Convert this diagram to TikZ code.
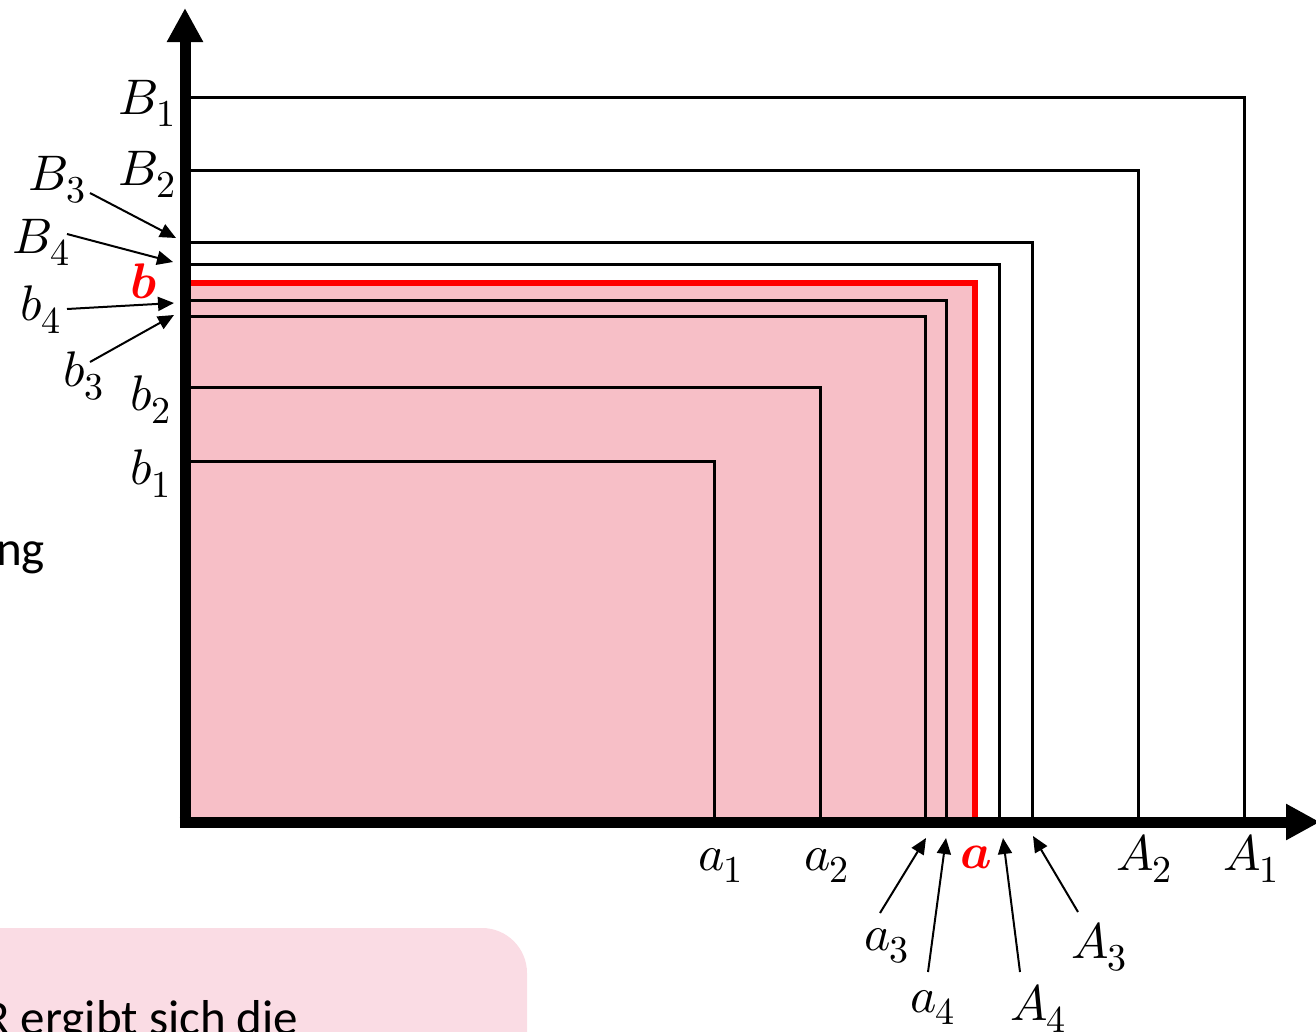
\documentclass[tikz,border=0pt]{standalone}
\usepackage{fontspec}
\usepackage{unicode-math}
\setmainfont{Carlito}
\usetikzlibrary{arrows.meta}
\definecolor{pinkfill}{HTML}{F7BFC7}
\definecolor{boxpink}{HTML}{FADCE4}
\definecolor{redline}{HTML}{FF0000}
\newcommand{\lblsub}[3][12pt]{$#2$\kern-1pt\raisebox{-#1}{\fontsize{38}{42}\selectfont$#3$}}
\tikzset{
  lab/.style={font=\fontsize{50}{60}\selectfont, inner sep=0pt, anchor=base west},
  redlab/.style={lab, text=redline},
  rectline/.style={line width=3pt},
  redrect/.style={line width=6pt, draw=redline},
  pointer/.style={line width=2pt, -{Triangle[length=16pt,width=14pt]}},
  axis/.style={line width=11pt, -{Triangle[length=34pt,width=34pt]}},
  bodytext/.style={font=\fontsize{49}{56}\selectfont, inner sep=0pt, anchor=base west}
}
\begin{document}
\begin{tikzpicture}[x=1pt,y=-1pt]
\useasboundingbox (0,0) rectangle (1316,1031);
\clip (0,0) rectangle (1316,1031);
% pink area
\fill[pinkfill] (185,283) rectangle (975,822);
% rectangles
\draw[rectline] (185,97) -| (1244,822);
\draw[rectline] (185,170) -| (1138,822);
\draw[rectline] (185,242) -| (1032,822);
\draw[rectline] (185,264) -| (999,822);
\draw[redrect] (185,283) -| (975,822);
\draw[rectline] (185,300) -| (946,822);
\draw[rectline] (185,316) -| (925,822);
\draw[rectline] (185,387) -| (820,822);
\draw[rectline] (185,461) -| (714,822);
% axes
\coordinate (xs) at (179.5,822);
\coordinate (xe) at (1320,822);
\coordinate (ys) at (185,827.5);
\coordinate (ye) at (185,8);
\draw[axis] (xs) -- (xe);
\draw[axis] (ys) -- (ye);
% left labels
\node[lab] (lB1) at (118,114) {\lblsub{B}{1}};
\node[lab] (lB2) at (118,185) {\lblsub{B}{2}};
\node[lab] (lB3) at (28,190) {\lblsub{B}{3}};
\node[lab] (lB4) at (12,253) {\lblsub{B}{4}};
\node[redlab] (lb) at (130,298) {$\symbfit{b}$};
\node[lab] (lb4) at (20,320) {\lblsub[13pt]{b}{4}};
\node[lab] (lb3) at (63,386) {\lblsub[13pt]{b}{3}};
\node[lab] (lb2) at (130,410) {\lblsub[13pt]{b}{2}};
\node[lab] (lb1) at (130,484) {\lblsub[13pt]{b}{1}};
% bottom labels
\node[lab] (la1) at (698,870) {\lblsub{a}{1}};
\node[lab] (la2) at (804,870) {\lblsub{a}{2}};
\node[redlab] (la) at (960,868) {$\symbfit{a}$};
\node[lab] (lA2) at (1116,870) {\lblsub{A}{2}};
\node[lab] (lA1) at (1223,870) {\lblsub{A}{1}};
\node[lab] (la3) at (864,950) {\lblsub{a}{3}};
\node[lab] (la4) at (910,1012) {\lblsub{a}{4}};
\node[lab] (lA4) at (1010,1020) {\lblsub{A}{4}};
\node[lab] (lA3) at (1071,958) {\lblsub{A}{3}};
% pointer coordinates
\coordinate (tB3) at (90,193);  \coordinate (hB3) at (176,238);
\coordinate (tB4) at (67,234);  \coordinate (hB4) at (173,262);
\coordinate (tb4) at (67,309);  \coordinate (hb4) at (174,303);
\coordinate (tb3) at (90,362);  \coordinate (hb3) at (174,315);
\coordinate (ta3) at (880,913); \coordinate (ha3) at (926,838);
\coordinate (ta4) at (928,972); \coordinate (ha4) at (946,838);
\coordinate (tA4) at (1020,972); \coordinate (hA4) at (1003,838);
\coordinate (tA3) at (1078,912); \coordinate (hA3) at (1033,836);
\draw[pointer] (tB3) -- (hB3);
\draw[pointer] (tB4) -- (hB4);
\draw[pointer] (tb4) -- (hb4);
\draw[pointer] (tb3) -- (hb3);
\draw[pointer] (ta3) -- (ha3);
\draw[pointer] (ta4) -- (ha4);
\draw[pointer] (tA4) -- (hA4);
\draw[pointer] (tA3) -- (hA3);
% partial texts
\node[bodytext] (ng) at (-4,565) {ng};
\fill[boxpink, rounded corners=45pt] (-60,928) rectangle (527,1100);
\node[bodytext] (ergibt) at (-17,1034) {R ergibt sich die};
\end{tikzpicture}
\end{document}
